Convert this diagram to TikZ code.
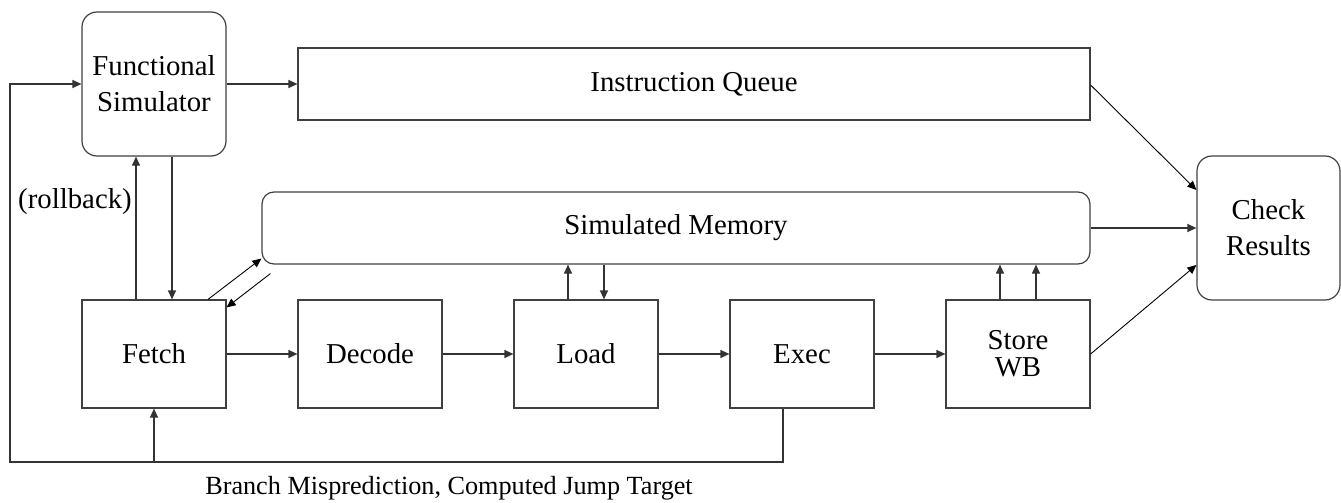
\documentclass[tikz,border=0pt]{standalone}
\usepackage{fontspec}
\setmainfont{Liberation Serif}
\usetikzlibrary{arrows.meta}

\tikzset{
	blk/.style={draw=black!75, line width=0.6pt, minimum width=72pt, minimum height=54pt, inner sep=0pt, align=center, font=\fontsize{14.4}{18}\selectfont},
	rblk/.style={blk, rounded corners=7.5pt, minimum height=72pt},
	arw/.style={-{Triangle[length=4.5pt,width=4pt]}, draw=black!80, line width=0.6pt},
	lbl/.style={font=\fontsize{14.4}{18}\selectfont},
}

\begin{document}
\begin{tikzpicture}[x=0.5pt,y=-0.5pt]
	\useasboundingbox (0,0) rectangle (1341,503);

	% top row
	\node[rblk](fsim) at (154,84) {Functional\\Simulator};
	\node[blk, minimum width=396pt, minimum height=36pt](iq) at (694,84) {Instruction Queue};
	\node[blk, rounded corners=6pt, minimum width=414pt, minimum height=36pt](smem) at (676,228) {Simulated Memory};
	\node[rblk, minimum width=71.5pt](chk) at (1268.5,228) {Check\\Results};

	% pipeline
	\node[blk](fetch) at (154,354) {Fetch};
	\node[blk](decode) at (370,354) {Decode};
	\node[blk](load) at (586,354) {Load};
	\node[blk](exec) at (802,354) {Exec};
	\node[blk, font=\fontsize{14.4}{13.5}\selectfont](store) at (1018,354) {Store\\WB};

	\node[lbl](rb) at (75,202) {(rollback)};
	\node[lbl, font=\fontsize{13.1}{16}\selectfont](br) at (449,488) {Branch Misprediction, Computed Jump Target};

	\coordinate(exd) at (783,462);
	\coordinate(lfc) at (10,462);

	\draw[arw](fsim) -- (iq);
	\draw[arw](fetch) -- (decode);
	\draw[arw](decode) -- (load);
	\draw[arw](load) -- (exec);
	\draw[arw](exec) -- (store);

	\draw[arw]([xshift=-9pt]fetch.north) -- ([xshift=-9pt]fsim.south);
	\draw[arw]([xshift=9pt]fsim.south) -- ([xshift=9pt]fetch.north);

	\draw[arw, draw=black, line width=0.45pt]([xshift=27pt]fetch.north) -- ([yshift=3pt]smem.south west);
	\draw[arw, draw=black, line width=0.45pt]([shift={(4.5pt,-4.5pt)}]smem.south west) -- ([yshift=-4pt]fetch.north east);

	\draw[arw]([xshift=-9pt]load.north) -- ([xshift=-9pt]load.north |- smem.south);
	\draw[arw]([xshift=9pt]load.north |- smem.south) -- ([xshift=9pt]load.north);
	\draw[arw]([xshift=-9pt]store.north) -- ([xshift=-9pt]store.north |- smem.south);
	\draw[arw]([xshift=9pt]store.north) -- ([xshift=9pt]store.north |- smem.south);

	\draw[arw, draw=black, line width=0.45pt]([yshift=-0.5pt]iq.east) -- ([yshift=19pt]chk.west);
	\draw[arw](smem) -- (chk);
	\draw[arw, draw=black, line width=0.45pt](store.east) -- ([yshift=-18.5pt]chk.west);

	% branch feedback
	\draw[arw](exd |- exec.south) -- (exd) -- (lfc) |- (fsim.west);
	\draw[arw](fetch.south |- lfc) -- (fetch.south);
\end{tikzpicture}
\end{document}
